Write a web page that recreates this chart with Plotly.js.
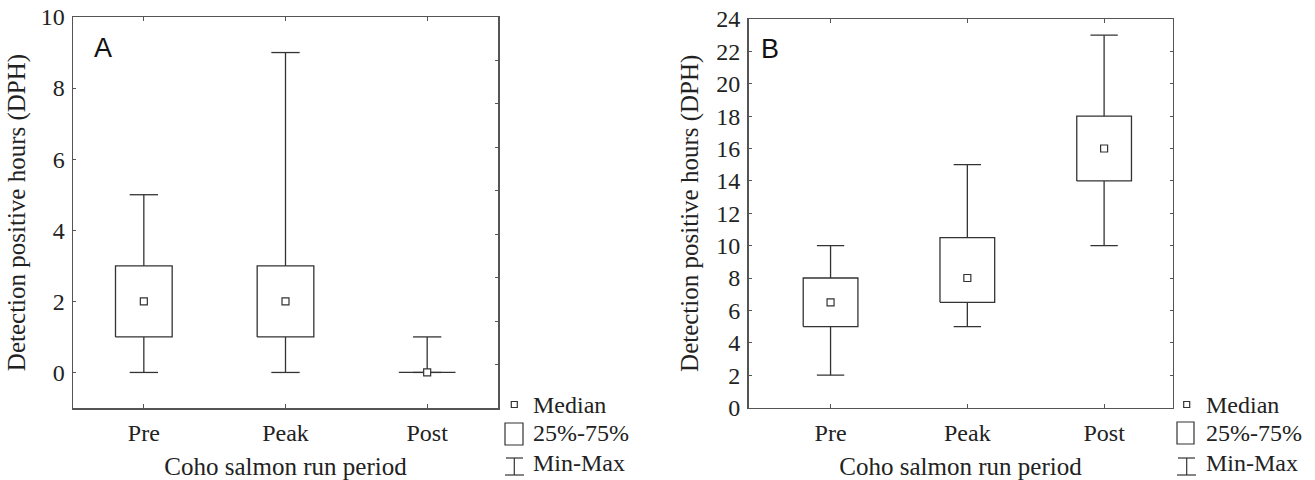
<!DOCTYPE html>
<html>
<head>
<meta charset="utf-8">
<script src="https://cdn.plot.ly/plotly-3.0.1.min.js"></script>
<style>
  html, body { margin: 0; padding: 0; background: #fff; }
  #chart { width: 1315px; height: 480px; }
</style>
</head>
<body>
<div id="chart"></div>
<script>
// ---- Data ----
const categories = ['Pre', 'Peak', 'Post'];

// Panel A
const aMin = [0, 0, 0];
const aQ1  = [1, 1, 0];
const aMed = [2, 2, 0];
const aQ3  = [3, 3, 0];
const aMax = [5, 9, 1];

// Panel B
const bMin = [2, 5, 10];
const bQ1  = [5, 6.5, 14];
const bMed = [6.5, 8, 16];
const bQ3  = [8, 10.5, 18];
const bMax = [10, 15, 23];

const aTicks = [0, 2, 4, 6, 8, 10];
const bTicks = [0, 2, 4, 6, 8, 10, 12, 14, 16, 18, 20, 22, 24];

const panelLabels = ['A', 'B'];
const legendLabels = ['Median', '25%-75%', 'Min-Max'];
const xTitle = 'Coho salmon run period';
const yTitle = 'Detection positive hours (DPH)';

// ---- Styles ----
const W = 1315, H = 480;
const LINE = '#333333';
const FRAME = '#555555';
const SERIF = 'Liberation Serif';
const BOXW = 0.2;   // half box width (x units)
const CAPW = 0.1;   // half cap width

function buildTraces(mins, q1, med, q3, maxs, xa, ya) {
  const bx = [], by = [], wx = [], wy = [];
  categories.forEach((c, i) => {
    bx.push(i - BOXW, i + BOXW, i + BOXW, i - BOXW, i - BOXW, null);
    by.push(q1[i], q1[i], q3[i], q3[i], q1[i], null);
    wx.push(i, i, null, i - CAPW, i + CAPW, null);
    wy.push(q3[i], maxs[i], null, maxs[i], maxs[i], null);
    wx.push(i, i, null, i - CAPW, i + CAPW, null);
    wy.push(q1[i], mins[i], null, mins[i], mins[i], null);
  });
  const common = { xaxis: xa, yaxis: ya, hoverinfo: 'skip', showlegend: false };
  return [
    Object.assign({ type: 'scatter', mode: 'lines', x: wx, y: wy,
      line: { color: LINE, width: 1.3 }, connectgaps: false }, common),
    Object.assign({ type: 'scatter', mode: 'lines', x: bx, y: by,
      line: { color: LINE, width: 1.3 }, connectgaps: false }, common),
    Object.assign({ type: 'scatter', mode: 'markers', x: categories.map((c, i) => i), y: med,
      marker: { symbol: 'square', size: 7, color: '#fff', line: { color: LINE, width: 1.2 } } }, common)
  ];
}

const data = [].concat(
  buildTraces(aMin, aQ1, aMed, aQ3, aMax, 'x', 'y'),
  buildTraces(bMin, bQ1, bMed, bQ3, bMax, 'x2', 'y2')
);

function xAxis(domain, range, anchor) {
  return {
    domain: domain, range: range, anchor: anchor,
    tickmode: 'array', tickvals: categories.map((c, i) => i), ticktext: categories,
    ticks: 'inside', ticklen: 4, tickcolor: FRAME, tickwidth: 1,
    showline: true, linecolor: FRAME, linewidth: 1.5, mirror: 'ticks',
    showgrid: false, zeroline: false, fixedrange: true,
    tickfont: { family: SERIF, size: 24, color: '#222' },
    ticklabelstandoff: 3,
    title: { text: xTitle, font: { family: SERIF, size: 25, color: '#222' }, standoff: 13 },
    automargin: false
  };
}
function yAxis(domain, range, tickvals, anchor, mirror, titleStandoff) {
  return {
    domain: domain, range: range, anchor: anchor,
    tickmode: 'array', tickvals: tickvals, ticktext: tickvals.map(String),
    ticks: 'inside', ticklen: 3, tickcolor: FRAME, tickwidth: 1,
    showline: true, linecolor: FRAME, linewidth: 1.5, mirror: mirror,
    showgrid: false, zeroline: false, fixedrange: true,
    tickfont: { family: SERIF, size: 24, color: '#222' },
    ticklabelstandoff: 2,
    title: { text: yTitle, font: { family: SERIF, size: 25, color: '#222' }, standoff: titleStandoff },
    automargin: false
  };
}

const xa1 = [73 / W, 498 / W];
const xa2 = [748.5 / W, 1172.5 / W];
const ya1 = [1 - 408 / H, 1 - 17 / H];
const ya2 = [1 - 407.5 / H, 1 - 19 / H];

const px = v => v / W;
const py = v => 1 - v / H;

function legendShapes(cx, boxL, boxR, medHalf, medCy, boxT, boxB, wT, wB, capL, capR) {
  const ln = { color: LINE, width: 1.2 };
  return [
    { type: 'rect', xref: 'paper', yref: 'paper', x0: px(cx - medHalf), x1: px(cx + medHalf),
      y0: py(medCy + medHalf), y1: py(medCy - medHalf), line: ln, fillcolor: '#fff' },
    { type: 'rect', xref: 'paper', yref: 'paper', x0: px(boxL), x1: px(boxR),
      y0: py(boxB), y1: py(boxT), line: ln },
    { type: 'line', xref: 'paper', yref: 'paper', x0: px(cx), x1: px(cx), y0: py(wT), y1: py(wB), line: ln },
    { type: 'line', xref: 'paper', yref: 'paper', x0: px(capL + 1), x1: px(capR - 1), y0: py(wT), y1: py(wT), line: ln },
    { type: 'line', xref: 'paper', yref: 'paper', x0: px(capL), x1: px(capR), y0: py(wB), y1: py(wB), line: ln }
  ];
}

function legendTexts(x0, ys) {
  return legendLabels.map((t, i) => ({
    xref: 'paper', yref: 'paper', x: px(x0), y: py(ys[i]), xanchor: 'left', yanchor: 'middle',
    text: t, showarrow: false, font: { family: SERIF, size: 24, color: '#222' }
  }));
}

const shapes = [].concat(
  legendShapes(514.3, 505, 523, 3, 404.5, 423, 445, 458, 475, 505, 524),
  legendShapes(1186.7, 1177, 1194, 3, 404.5, 422, 444, 458, 475, 1177, 1196)
);

const annotations = [].concat(
  legendTexts(531, [405, 433, 463]),
  legendTexts(1204, [405, 433, 463]),
  [
    { xref: 'paper', yref: 'paper', x: px(92), y: py(48), xanchor: 'left', yanchor: 'middle',
      text: panelLabels[0], showarrow: false, font: { family: 'Liberation Sans', size: 27, color: '#111' } },
    { xref: 'paper', yref: 'paper', x: px(759), y: py(49), xanchor: 'left', yanchor: 'middle',
      text: panelLabels[1], showarrow: false, font: { family: 'Liberation Sans', size: 27, color: '#111' } }
  ]
);

const layout = {
  width: W, height: H,
  margin: { l: 0, r: 0, t: 0, b: 0 },
  paper_bgcolor: '#fff', plot_bgcolor: '#fff',
  showlegend: false,
  xaxis: xAxis(xa1, [-0.5, 2.5], 'y'),
  yaxis: yAxis(ya1, [-1, 10], aTicks, 'x', true, 8),
  yaxis3: {
    domain: ya1, range: [0, 9], overlaying: 'y', side: 'right', anchor: 'x',
    dtick: 1, ticks: 'inside', ticklen: 3, tickcolor: FRAME, tickwidth: 1,
    showticklabels: false, showgrid: false, zeroline: false, showline: false, fixedrange: true
  },
  xaxis2: xAxis(xa2, [-0.6, 2.5], 'y2'),
  yaxis2: yAxis(ya2, [0, 24], bTicks, 'x2', 'ticks', 10),
  shapes: shapes,
  annotations: annotations
};

data.push({ type: 'scatter', x: [null], y: [null], xaxis: 'x', yaxis: 'y3', hoverinfo: 'skip', showlegend: false });

Plotly.newPlot('chart', data, layout, { displayModeBar: false, staticPlot: true });
</script>
</body>
</html>
